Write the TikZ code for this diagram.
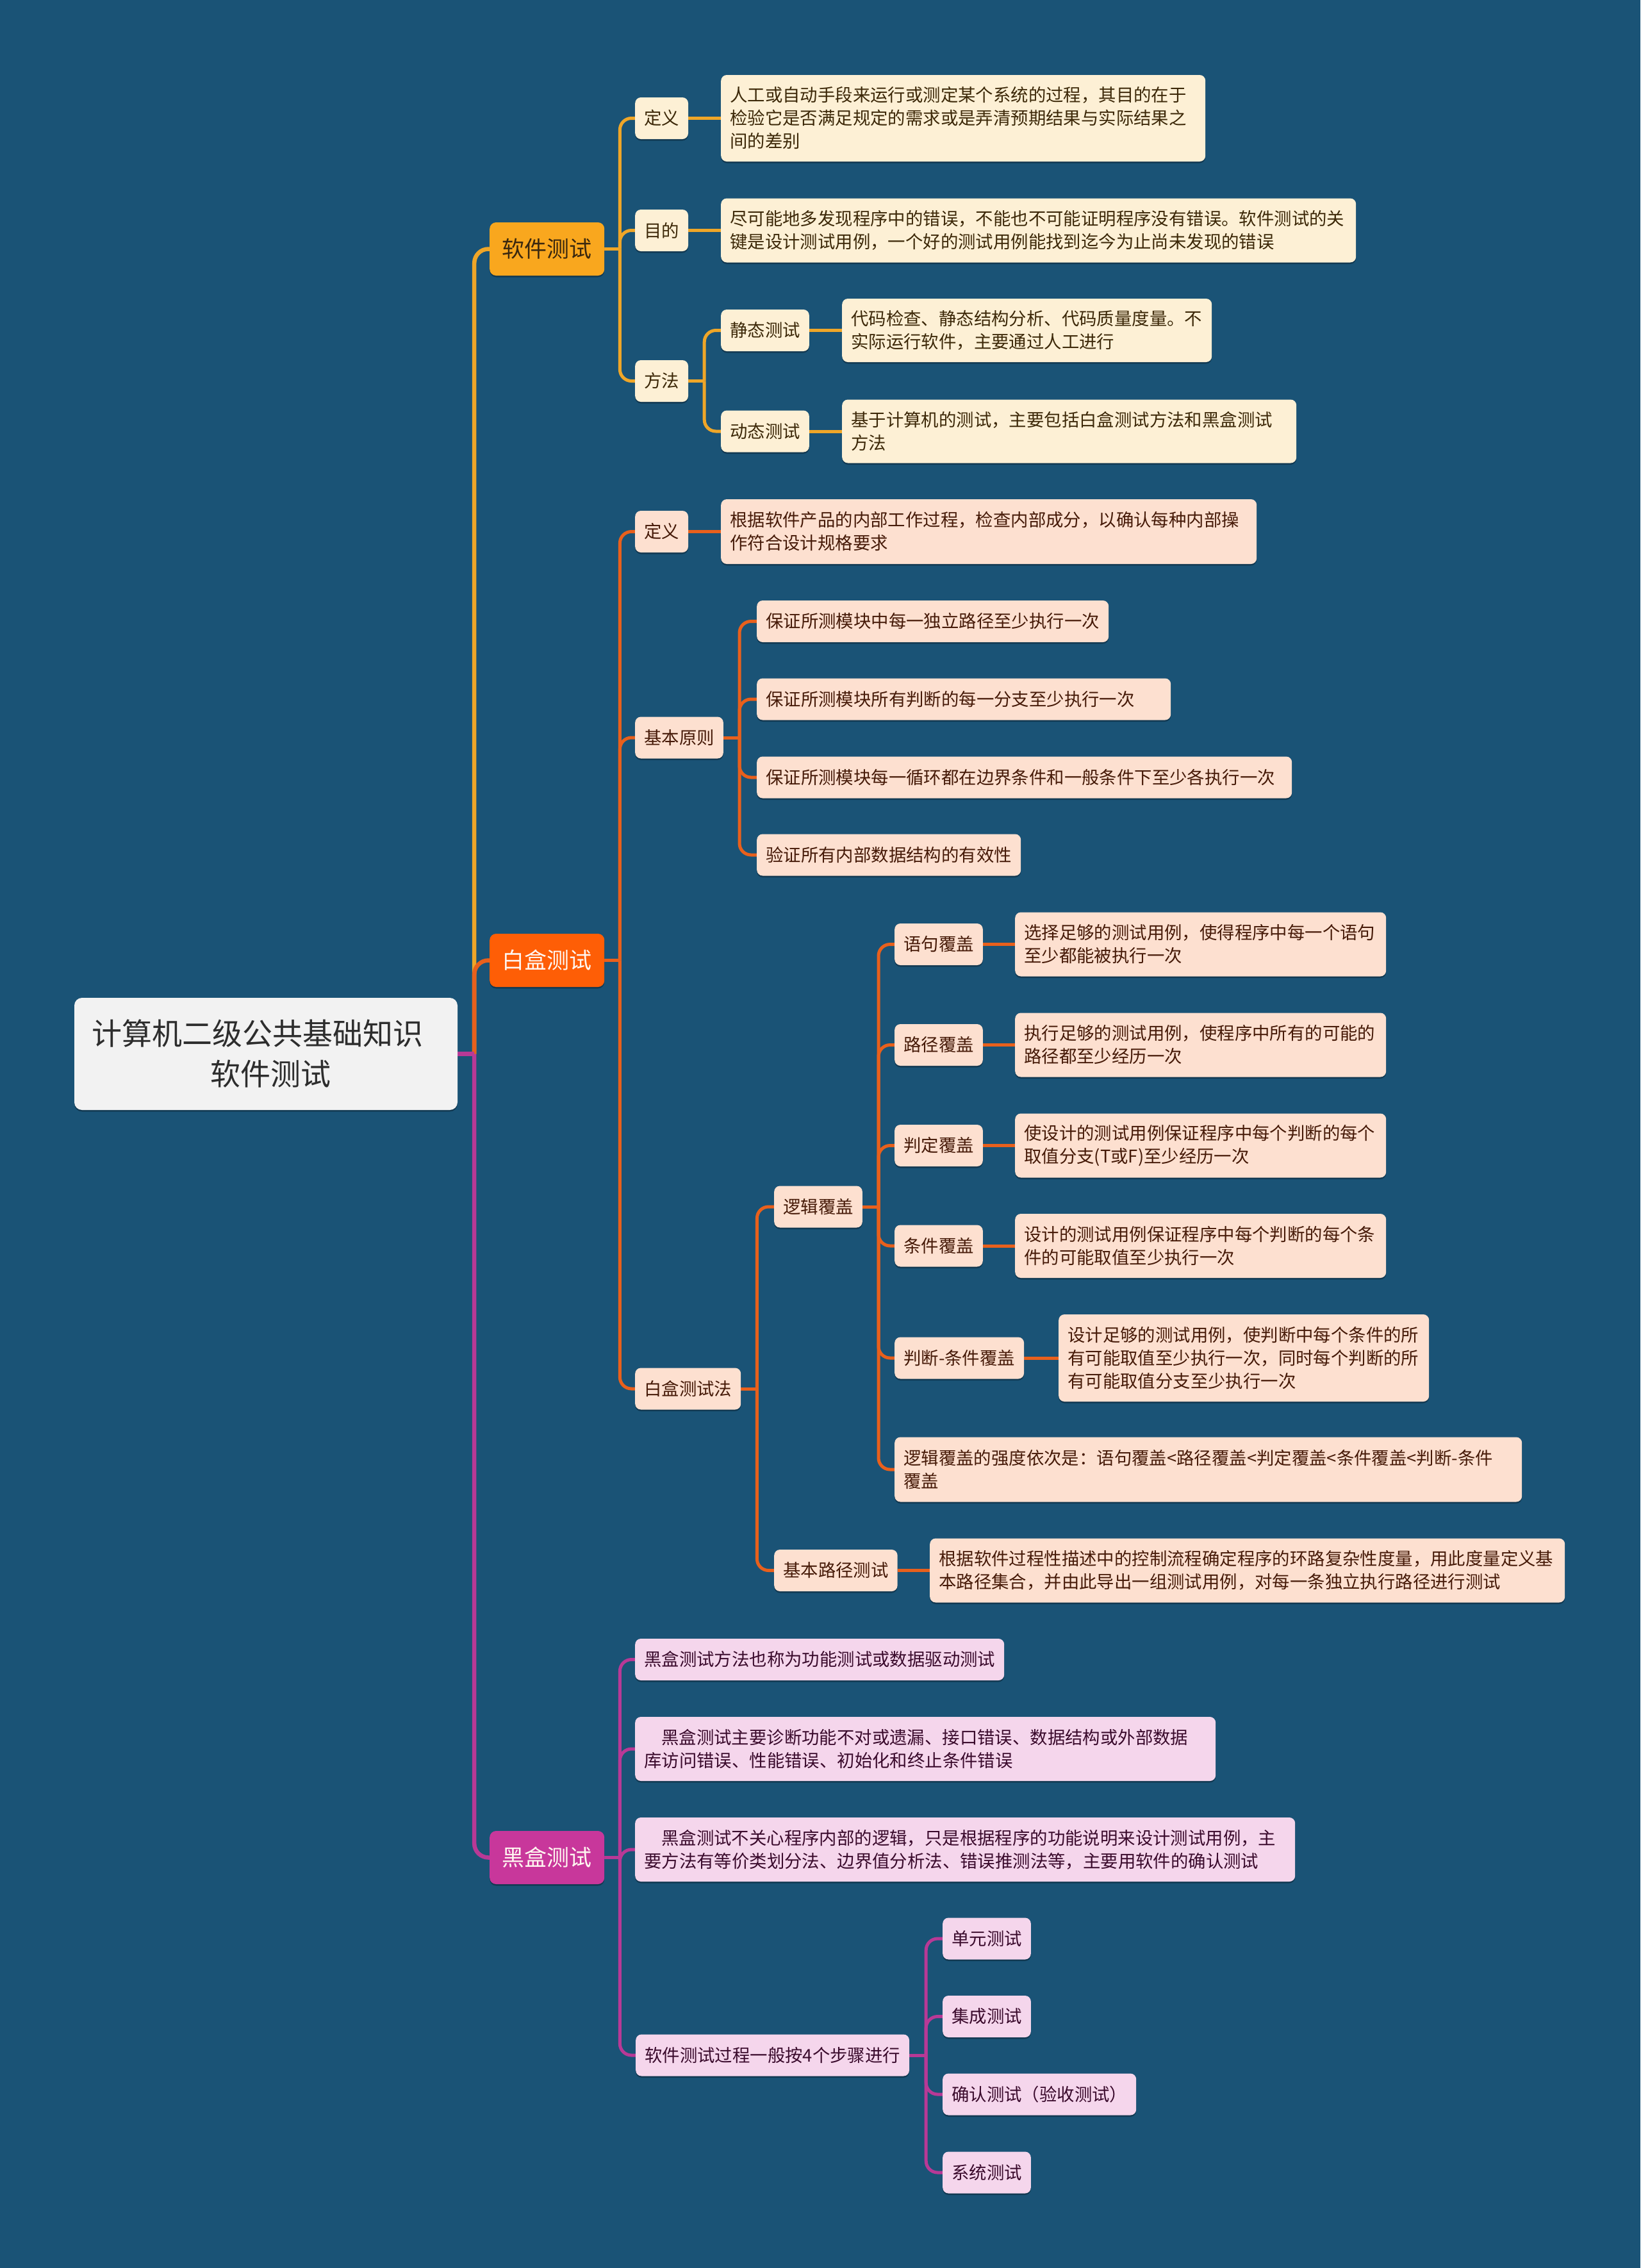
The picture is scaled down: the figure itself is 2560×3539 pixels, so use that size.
\documentclass[tikz,border=0pt]{standalone}
\usepackage{fontspec}
\setmainfont{Noto Sans CJK SC}
\usetikzlibrary{shadows}
\definecolor{bgc}{RGB}{26,83,118}
\definecolor{rootc}{RGB}{242,242,242}
\definecolor{roott}{RGB}{45,45,45}
\definecolor{topY}{RGB}{249,167,30}
\definecolor{topYt}{RGB}{58,40,15}
\definecolor{topO}{RGB}{254,94,6}
\definecolor{topM}{RGB}{200,55,155}
\definecolor{topW}{RGB}{255,246,240}
\definecolor{creamc}{RGB}{253,240,213}
\definecolor{creamt}{RGB}{60,40,8}
\definecolor{peachc}{RGB}{253,224,208}
\definecolor{peacht}{RGB}{70,26,8}
\definecolor{pinkc}{RGB}{245,214,236}
\definecolor{pinkt}{RGB}{58,10,44}
\definecolor{lineY}{RGB}{239,166,40}
\definecolor{lineO}{RGB}{232,96,28}
\definecolor{lineM}{RGB}{184,57,150}
\newcommand\myfs{\fontsize{27.4pt}{36pt}\selectfont}
\newcommand\myfm{\fontsize{35pt}{42pt}\selectfont}
\newcommand\myfl{\fontsize{47pt}{63pt}\selectfont}
\pgfdeclarelayer{back}
\pgfdeclarelayer{lines}
\pgfsetlayers{back,lines,main}
\tikzset{
  nbase/.style={rounded corners=9pt, inner xsep=14pt, inner ysep=3pt, anchor=west,
    drop shadow={shadow xshift=0pt, shadow yshift=-2.5pt, opacity=0.3, fill=black}},
  lbl/.style={nbase, minimum height=65pt, font=\myfs},
  leaf/.style={nbase, text width=#1, align=left, font=\myfs},
  cream/.style={fill=creamc, text=creamt},
  peach/.style={fill=peachc, text=peacht},
  pink/.style={fill=pinkc, text=pinkt},
  topic/.style={rounded corners=10pt, anchor=west, minimum width=179pt, minimum height=83pt,
    inner sep=0pt, font=\myfm,
    drop shadow={shadow xshift=0pt, shadow yshift=-2.5pt, opacity=0.3, fill=black}},
  rootbox/.style={rounded corners=12pt, minimum width=598pt, minimum height=175pt,
    fill=rootc, text=roott, align=center, font=\myfl,
    drop shadow={shadow xshift=0pt, shadow yshift=-2.5pt, opacity=0.3, fill=black}},
  tY/.style={draw=lineY, line width=6.5pt, rounded corners=22pt},
  tO/.style={draw=lineO, line width=6.5pt, rounded corners=22pt},
  tM/.style={draw=lineM, line width=6.5pt, rounded corners=22pt},
  lY/.style={draw=lineY, line width=5pt, rounded corners=18pt},
  lO/.style={draw=lineO, line width=5pt, rounded corners=18pt},
  lM/.style={draw=lineM, line width=5pt, rounded corners=18pt},
}
\begin{document}
\begin{tikzpicture}[x=1pt,y=-1pt]
\begin{pgfonlayer}{back}
\fill[bgc] (0,0) rectangle (2560,3539);
\end{pgfonlayer}

% root
\node[rootbox] (root) at (415,1644.5) {计算机二级公共基础知识\hspace*{26pt}\\\hspace*{14pt}软件测试};

% main topics
\node[topic, fill=topY, text=topYt] (s1) at (764,388.5) {软件测试};
\node[topic, fill=topO, text=topW] (s2) at (764,1498.5) {白盒测试};
\node[topic, fill=topM, text=topW] (s3) at (764,2898.5) {黑盒测试};

% software testing branch
\node[lbl,cream] (a1) at (991,184.5) {定义};
\node[leaf=728pt,cream,minimum height=135pt] (a1t) at (1125,184.5) {人工或自动手段来运行或测定某个系统的过程，其目的在于\\检验它是否满足规定的需求或是弄清预期结果与实际结果之\\间的差别};
\node[lbl,cream] (a2) at (991,359.5) {目的};
\node[leaf=963pt,cream,minimum height=100pt] (a2t) at (1125,359.5) {尽可能地多发现程序中的错误，不能也不可能证明程序没有错误。软件测试的关\\键是设计测试用例，一个好的测试用例能找到迄今为止尚未发现的错误};
\node[lbl,cream] (a3) at (991,594.5) {方法};
\node[lbl,cream] (a31) at (1125,515.5) {静态测试};
\node[leaf=549pt,cream,minimum height=99pt] (a31t) at (1314,515.5) {代码检查、静态结构分析、代码质量度量。不\\实际运行软件，主要通过人工进行};
\node[lbl,cream] (a32) at (1125,673) {动态测试};
\node[leaf=681pt,cream,minimum height=99pt] (a32t) at (1314,673) {基于计算机的测试，主要包括白盒测试方法和黑盒测试\\方法};

% white box branch
\node[lbl,peach] (b1) at (991,829.5) {定义};
\node[leaf=808pt,peach,minimum height=101pt] (b1t) at (1125,829.5) {根据软件产品的内部工作过程，检查内部成分，以确认每种内部操\\作符合设计规格要求};
\node[lbl,peach] (b2) at (991,1151) {基本原则};
\node[leaf=521pt,peach,minimum height=65pt] (b21) at (1181,969.5) {保证所测模块中每一独立路径至少执行一次};
\node[leaf=618pt,peach,minimum height=65pt] (b22) at (1181,1091) {保证所测模块所有判断的每一分支至少执行一次};
\node[leaf=807pt,peach,minimum height=65pt] (b23) at (1181,1213) {保证所测模块每一循环都在边界条件和一般条件下至少各执行一次};
\node[leaf=384pt,peach,minimum height=65pt] (b24) at (1181,1334) {验证所有内部数据结构的有效性};
\node[lbl,peach] (b3) at (991,2167) {白盒测试法};
\node[lbl,peach] (b31) at (1208,1883) {逻辑覆盖};
\node[lbl,peach] (c1) at (1396,1473.5) {语句覆盖};
\node[leaf=551pt,peach,minimum height=100pt] (c1t) at (1584,1473.5) {选择足够的测试用例，使得程序中每一个语句\\至少都能被执行一次};
\node[lbl,peach] (c2) at (1396,1630.5) {路径覆盖};
\node[leaf=551pt,peach,minimum height=100pt] (c2t) at (1584,1630.5) {执行足够的测试用例，使程序中所有的可能的\\路径都至少经历一次};
\node[lbl,peach] (c3) at (1396,1787.5) {判定覆盖};
\node[leaf=551pt,peach,minimum height=100pt] (c3t) at (1584,1787.5) {使设计的测试用例保证程序中每个判断的每个\\取值分支(T或F)至少经历一次};
\node[lbl,peach] (c4) at (1396,1944) {条件覆盖};
\node[leaf=551pt,peach,minimum height=100pt] (c4t) at (1584,1944) {设计的测试用例保证程序中每个判断的每个条\\件的可能取值至少执行一次};
\node[lbl,peach] (c5) at (1396,2119) {判断-条件覆盖};
\node[leaf=550pt,peach,minimum height=136pt] (c5t) at (1652,2119) {设计足够的测试用例，使判断中每个条件的所\\有可能取值至少执行一次，同时每个判断的所\\有可能取值分支至少执行一次};
\node[leaf=951pt,peach,minimum height=101pt] (c6) at (1396,2293) {逻辑覆盖的强度依次是：语句覆盖<路径覆盖<判定覆盖<条件覆盖<判断-条件\\覆盖};
\node[lbl,peach] (b32) at (1208,2450.5) {基本路径测试};
\node[leaf=963pt,peach,minimum height=100pt] (b32t) at (1451,2450.5) {根据软件过程性描述中的控制流程确定程序的环路复杂性度量，用此度量定义基\\本路径集合，并由此导出一组测试用例，对每一条独立执行路径进行测试};

% black box branch
\node[lbl,pink] (d1) at (991,2589.5) {黑盒测试方法也称为功能测试或数据驱动测试};
\node[leaf=878pt,pink,minimum height=100pt] (d2) at (991,2729) {\hspace*{27pt}黑盒测试主要诊断功能不对或遗漏、接口错误、数据结构或外部数据\\库访问错误、性能错误、初始化和终止条件错误};
\node[leaf=1002pt,pink,minimum height=100pt] (d3) at (991,2886) {\hspace*{27pt}黑盒测试不关心程序内部的逻辑，只是根据程序的功能说明来设计测试用例，主\\要方法有等价类划分法、边界值分析法、错误推测法等，主要用软件的确认测试};
\node[lbl,pink] (d4) at (992,3207) {软件测试过程一般按4个步骤进行};
\node[lbl,pink] (e1) at (1471,3025) {单元测试};
\node[lbl,pink] (e2) at (1471,3146.5) {集成测试};
\node[lbl,pink] (e3) at (1471,3268) {确认测试（验收测试）};
\node[lbl,pink] (e4) at (1471,3390) {系统测试};

% junction coordinates
\path (root.east) ++(26,0) coordinate (rj);
\path (s1.east) ++(24,0) coordinate (s1j);
\path (s2.east) ++(24,0) coordinate (s2j);
\path (s3.east) ++(24,0) coordinate (s3j);
\path (a3.east) ++(25,0) coordinate (a3j);
\path (b2.east) ++(25,0) coordinate (b2j);
\path (b3.east) ++(25,0) coordinate (b3j);
\path (b31.east) ++(25,0) coordinate (b31j);
\path (d4.east) ++(26,0) coordinate (d4j);

\begin{pgfonlayer}{lines}
% trunk
\draw[tY] (rj) |- (s1.west);
\draw[tO] (rj) |- (s2.west);
\draw[tM] (rj) |- (s3.west);
\draw[tM, rounded corners=0pt] (root.east) -- (rj);
% software testing
\draw[lY, rounded corners=0pt] (s1.east) -- (s1j);
\draw[lY] (s1j) |- (a1.west);
\draw[lY] (s1j) |- (a2.west);
\draw[lY] (s1j) |- (a3.west);
\draw[lY] (a1.east) -- (a1t.west);
\draw[lY] (a2.east) -- (a2t.west);
\draw[lY, rounded corners=0pt] (a3.east) -- (a3j);
\draw[lY] (a3j) |- (a31.west);
\draw[lY] (a3j) |- (a32.west);
\draw[lY] (a31.east) -- (a31t.west);
\draw[lY] (a32.east) -- (a32t.west);
% white box
\draw[lO, rounded corners=0pt] (s2.east) -- (s2j);
\draw[lO] (s2j) |- (b1.west);
\draw[lO] (s2j) |- (b2.west);
\draw[lO] (s2j) |- (b3.west);
\draw[lO] (b1.east) -- (b1t.west);
\draw[lO, rounded corners=0pt] (b2.east) -- (b2j);
\draw[lO] (b2j) |- (b21.west);
\draw[lO] (b2j) |- (b22.west);
\draw[lO] (b2j) |- (b23.west);
\draw[lO] (b2j) |- (b24.west);
\draw[lO, rounded corners=0pt] (b3.east) -- (b3j);
\draw[lO] (b3j) |- (b31.west);
\draw[lO] (b3j) |- (b32.west);
\draw[lO, rounded corners=0pt] (b31.east) -- (b31j);
\draw[lO] (b31j) |- (c1.west);
\draw[lO] (b31j) |- (c2.west);
\draw[lO] (b31j) |- (c3.west);
\draw[lO] (b31j) |- (c4.west);
\draw[lO] (b31j) |- (c5.west);
\draw[lO] (b31j) |- (c6.west);
\draw[lO] (c1.east) -- (c1t.west);
\draw[lO] (c2.east) -- (c2t.west);
\draw[lO] (c3.east) -- (c3t.west);
\draw[lO] (c4.east) -- (c4t.west);
\draw[lO] (c5.east) -- (c5t.west);
\draw[lO] (b32.east) -- (b32t.west);
% black box
\draw[lM, rounded corners=0pt] (s3.east) -- (s3j);
\draw[lM] (s3j) |- (d1.west);
\draw[lM] (s3j) |- (d2.west);
\draw[lM] (s3j) |- (d3.west);
\draw[lM] (s3j) |- (d4.west);
\draw[lM, rounded corners=0pt] (d4.east) -- (d4j);
\draw[lM] (d4j) |- (e1.west);
\draw[lM] (d4j) |- (e2.west);
\draw[lM] (d4j) |- (e3.west);
\draw[lM] (d4j) |- (e4.west);
\end{pgfonlayer}
\end{tikzpicture}
\end{document}
